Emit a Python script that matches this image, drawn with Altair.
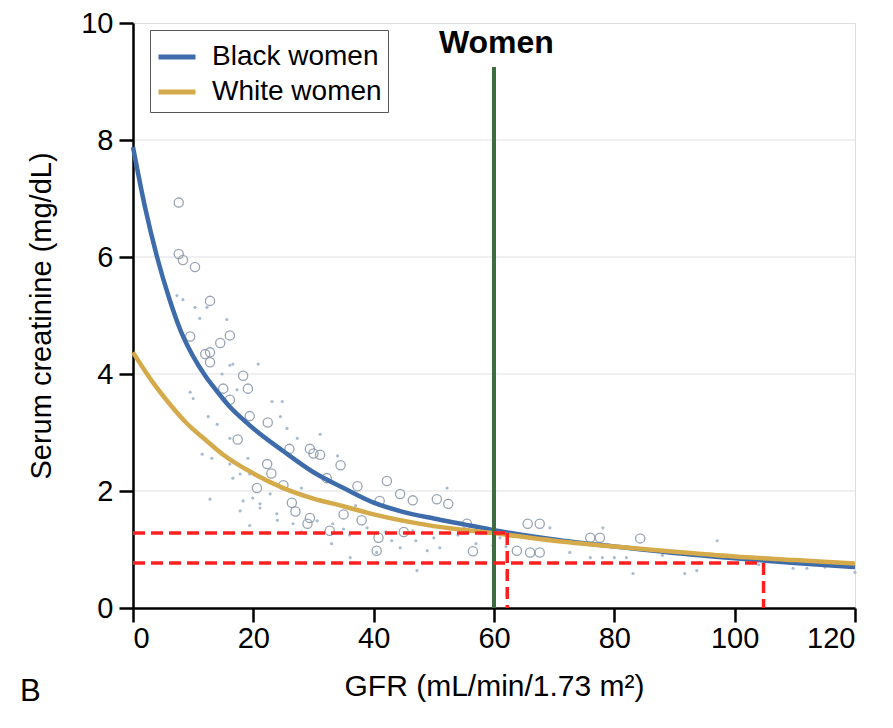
import altair as alt
import pandas as pd

# ---- curve data ----
black_x = [0, 2, 4, 6, 8, 10, 12, 14, 16, 18, 20, 25, 30, 35, 40, 45, 50, 55, 60, 70, 80, 90, 100, 110, 120]
black_y = [7.88, 6.85, 6.0, 5.3, 4.72, 4.3, 3.97, 3.7, 3.45, 3.25, 3.07, 2.68, 2.32, 2.05, 1.8, 1.64, 1.53, 1.43, 1.33, 1.17, 1.05, 0.94, 0.85, 0.77, 0.70]
white_x = [0, 3, 6, 9, 12, 15, 20, 25, 30, 35, 40, 50, 60, 70, 80, 90, 100, 110, 120]
white_y = [4.37, 3.9, 3.5, 3.15, 2.88, 2.62, 2.3, 2.05, 1.87, 1.74, 1.6, 1.4, 1.28, 1.15, 1.05, 0.96, 0.88, 0.82, 0.76]

# ---- scatter: open circles ----
circ_x = [7.6, 7.6, 8.3, 10.3, 12.8, 9.5, 16.1, 14.5, 12.0, 12.8, 12.8, 18.3, 19.1, 15.0, 16.1, 19.4, 22.4,
          17.4, 26.0, 29.4, 30.0, 31.1, 22.3, 20.6, 26.4, 32.2, 34.5, 37.3, 42.2, 44.4, 46.5, 50.5, 52.4,
          41.0, 55.5, 56.5, 40.8, 29.0, 32.7, 29.4, 65.6, 67.6, 76.0, 77.6, 84.3, 63.8, 66.0, 67.6, 40.5,
          23.0, 25.0, 27.0, 35.0, 38.0, 45.0]
circ_y = [6.93, 6.05, 5.95, 5.83, 5.25, 4.64, 4.66, 4.53, 4.34, 4.37, 4.2, 3.97, 3.75, 3.75, 3.56, 3.28, 3.17,
          2.88, 2.72, 2.72, 2.64, 2.62, 2.46, 2.05, 1.8, 2.22, 2.44, 2.08, 2.17, 1.95, 1.84, 1.86, 1.78,
          1.83, 1.44, 0.97, 1.2, 1.44, 1.32, 1.54, 1.44, 1.44, 1.2, 1.2, 1.19, 0.98, 0.95, 0.95, 0.98,
          2.3, 2.1, 1.65, 1.6, 1.5, 1.3]

# ---- scatter: small dots ----
dot_x = [7.3, 8.3, 10.3, 11.1, 12.3, 15.6, 16.1, 20.8, 16.6, 14.8, 17.3, 9.5, 10.0, 12.5, 14.0, 23.1, 24.8,
         24.5, 25.6, 27.3, 11.5, 13.1, 16.1, 17.8, 19.1, 19.4, 12.8, 18.3, 21.1, 22.8, 23.9, 16.1, 31.1,
         52.2, 19.4, 36.1, 40.5, 47.2, 44.4, 48.9, 51.0, 46.5, 38.9, 26.6, 30.6, 33.2, 17.8, 21.1, 16.6,
         19.9, 69.3, 78.1, 72.6, 76.0, 78.0, 80.0, 82.0, 83.1, 59.8, 68.8, 97.1, 91.7, 93.7, 109.7, 112.0,
         120.0, 100.4, 35.0, 36.0, 42.0, 43.0, 47.0, 50.0, 54.0, 57.0, 33.0, 28.0, 24.0, 61.0, 62.0, 88.0,
         104.0, 115.0, 37.0, 28.0, 34.0]
dot_y = [5.34, 5.27, 5.14, 4.95, 5.14, 4.93, 4.15, 4.17, 4.17, 4.0, 3.73, 3.69, 3.58, 3.27, 3.14, 3.53, 3.53,
         3.27, 3.07, 2.9, 2.63, 2.56, 2.46, 2.29, 2.56, 2.29, 1.86, 1.83, 1.71, 1.95, 1.61, 2.9, 2.97,
         2.05, 1.41, 0.86, 0.95, 0.64, 1.03, 0.98, 1.03, 1.32, 1.37, 1.44, 1.49, 1.44, 1.66, 1.78, 2.22,
         1.88, 1.37, 1.37, 0.95, 0.86, 0.86, 0.86, 0.86, 0.59, 1.07, 1.15, 1.15, 0.59, 0.64, 0.68, 0.68,
         0.61, 0.76, 1.35, 1.25, 1.3, 1.15, 1.15, 1.2, 1.25, 1.1, 1.1, 1.3, 1.5, 1.2, 1.05, 0.9,
         0.74, 0.7, 1.75, 2.05, 2.6]

# ---- reference lines ----
grid_y = [2, 4, 6, 8]
green_x = [60]
green_y0 = [0]
green_y1 = [9.25]
red_x0 = [0, 62.2, 0, 104.8]
red_x1 = [62.2, 62.2, 104.8, 104.8]
red_y0 = [1.28, 1.28, 0.77, 0.77]
red_y1 = [1.28, 0.0, 0.77, 0.0]

FONT = "Liberation Sans"

lines_df = pd.concat([
    pd.DataFrame({"gfr": black_x, "scr": black_y, "group": "Black women"}),
    pd.DataFrame({"gfr": white_x, "scr": white_y, "group": "White women"}),
])
circ_df = pd.DataFrame({"gfr": circ_x, "scr": circ_y})
dot_df = pd.DataFrame({"gfr": dot_x, "scr": dot_y})
grid_df = pd.DataFrame({"y": grid_y})
green_df = pd.DataFrame({"x": green_x, "y": green_y0, "y2": green_y1})
red_df = pd.DataFrame({"x": red_x0, "x2": red_x1, "y": red_y0, "y2": red_y1})
label_df = pd.DataFrame({"x": [60.4], "y": [9.65], "t": ["Women"]})

xscale = alt.Scale(domain=[0, 120], nice=False, zero=False)
yscale = alt.Scale(domain=[0, 10], nice=False)

xaxis = alt.Axis(values=[0, 20, 40, 60, 80, 100, 120], title="GFR (mL/min/1.73 m²)", grid=False,
                 format="d",
                 tickSize=14, tickWidth=2.5, tickColor="black", domainColor="black", domainWidth=2.5,
                 labelFontSize=29, labelFont=FONT, labelColor="black", labelPadding=2,
                 titleFontSize=30, titleFont=FONT, titleFontWeight="normal", titleColor="black",
                 titlePadding=18)
yaxis = alt.Axis(values=[0, 2, 4, 6, 8, 10], title="Serum creatinine (mg/dL)", format="d",
                 grid=False,
                 tickSize=14, tickWidth=2.5, tickColor="black", domainColor="black", domainWidth=2.5,
                 labelFontSize=29, labelFont=FONT, labelColor="black", labelPadding=6,
                 titleFontSize=29, titleFont=FONT, titleFontWeight="normal", titleColor="black",
                 titlePadding=24)

grid = alt.Chart(grid_df).mark_rule(color="#ebebeb", strokeWidth=1.5).encode(
    y=alt.Y("y:Q", scale=yscale, axis=yaxis),
    x=alt.value(2), x2=alt.value(722))
dots = alt.Chart(dot_df).mark_circle(size=10, color="#9fb4cb", opacity=0.9).encode(
    x=alt.X("gfr:Q", scale=xscale, axis=xaxis),
    y=alt.Y("scr:Q", scale=yscale),
)
circles = alt.Chart(circ_df).mark_point(shape="circle", filled=False, size=85, strokeWidth=1.3,
                                        color="#8e9aac", opacity=0.9).encode(
    x=alt.X("gfr:Q", scale=xscale), y=alt.Y("scr:Q", scale=yscale))

curves = alt.Chart(lines_df).mark_line(strokeWidth=4.5, interpolate="monotone").encode(
    x=alt.X("gfr:Q", scale=xscale), y=alt.Y("scr:Q", scale=yscale),
    color=alt.Color("group:N",
                    scale=alt.Scale(domain=["Black women", "White women"], range=["#3e6cab", "#d5aa4a"]),
                    legend=alt.Legend(title=None, orient="none", legendX=17, legendY=7,
                                      strokeColor="#555", padding=6, symbolType="stroke",
                                      symbolStrokeWidth=5, symbolSize=1369, labelFontSize=28,
                                      labelFont=FONT, labelColor="black", labelOffset=14,
                                      labelLimit=0, rowPadding=0, fillColor="white")),
)

green = alt.Chart(green_df).mark_rule(color="#3d6d40", strokeWidth=4).encode(
    x=alt.X("x:Q", scale=xscale), y=alt.Y("y:Q", scale=yscale), y2="y2:Q")
red = alt.Chart(red_df).mark_rule(color="#ff1f1f", strokeWidth=3.5, strokeDash=[12, 6]).encode(
    x=alt.X("x:Q", scale=xscale), x2="x2:Q", y=alt.Y("y:Q", scale=yscale), y2="y2:Q")
women = alt.Chart(label_df).mark_text(fontSize=32, font=FONT, fontWeight="bold", color="black").encode(
    x=alt.X("x:Q", scale=xscale), y=alt.Y("y:Q", scale=yscale), text="t:N")
panel = alt.Chart(pd.DataFrame({"t": ["B"]})).mark_text(fontSize=31, font=FONT, color="black",
                                                        align="left", baseline="middle").encode(
    x=alt.value(-113), y=alt.value(669), text="t:N")

chart = alt.layer(grid, dots, circles, curves, green, red, women, panel).properties(
    width=722, height=585,
    padding={"left": 125, "top": 15, "right": 30, "bottom": 100},
    autosize=alt.AutoSizeParams(type="none"),
).configure_view(stroke=None).configure(background="white")

chart.save("out.html", embed_options={"renderer": "svg", "actions": False})
